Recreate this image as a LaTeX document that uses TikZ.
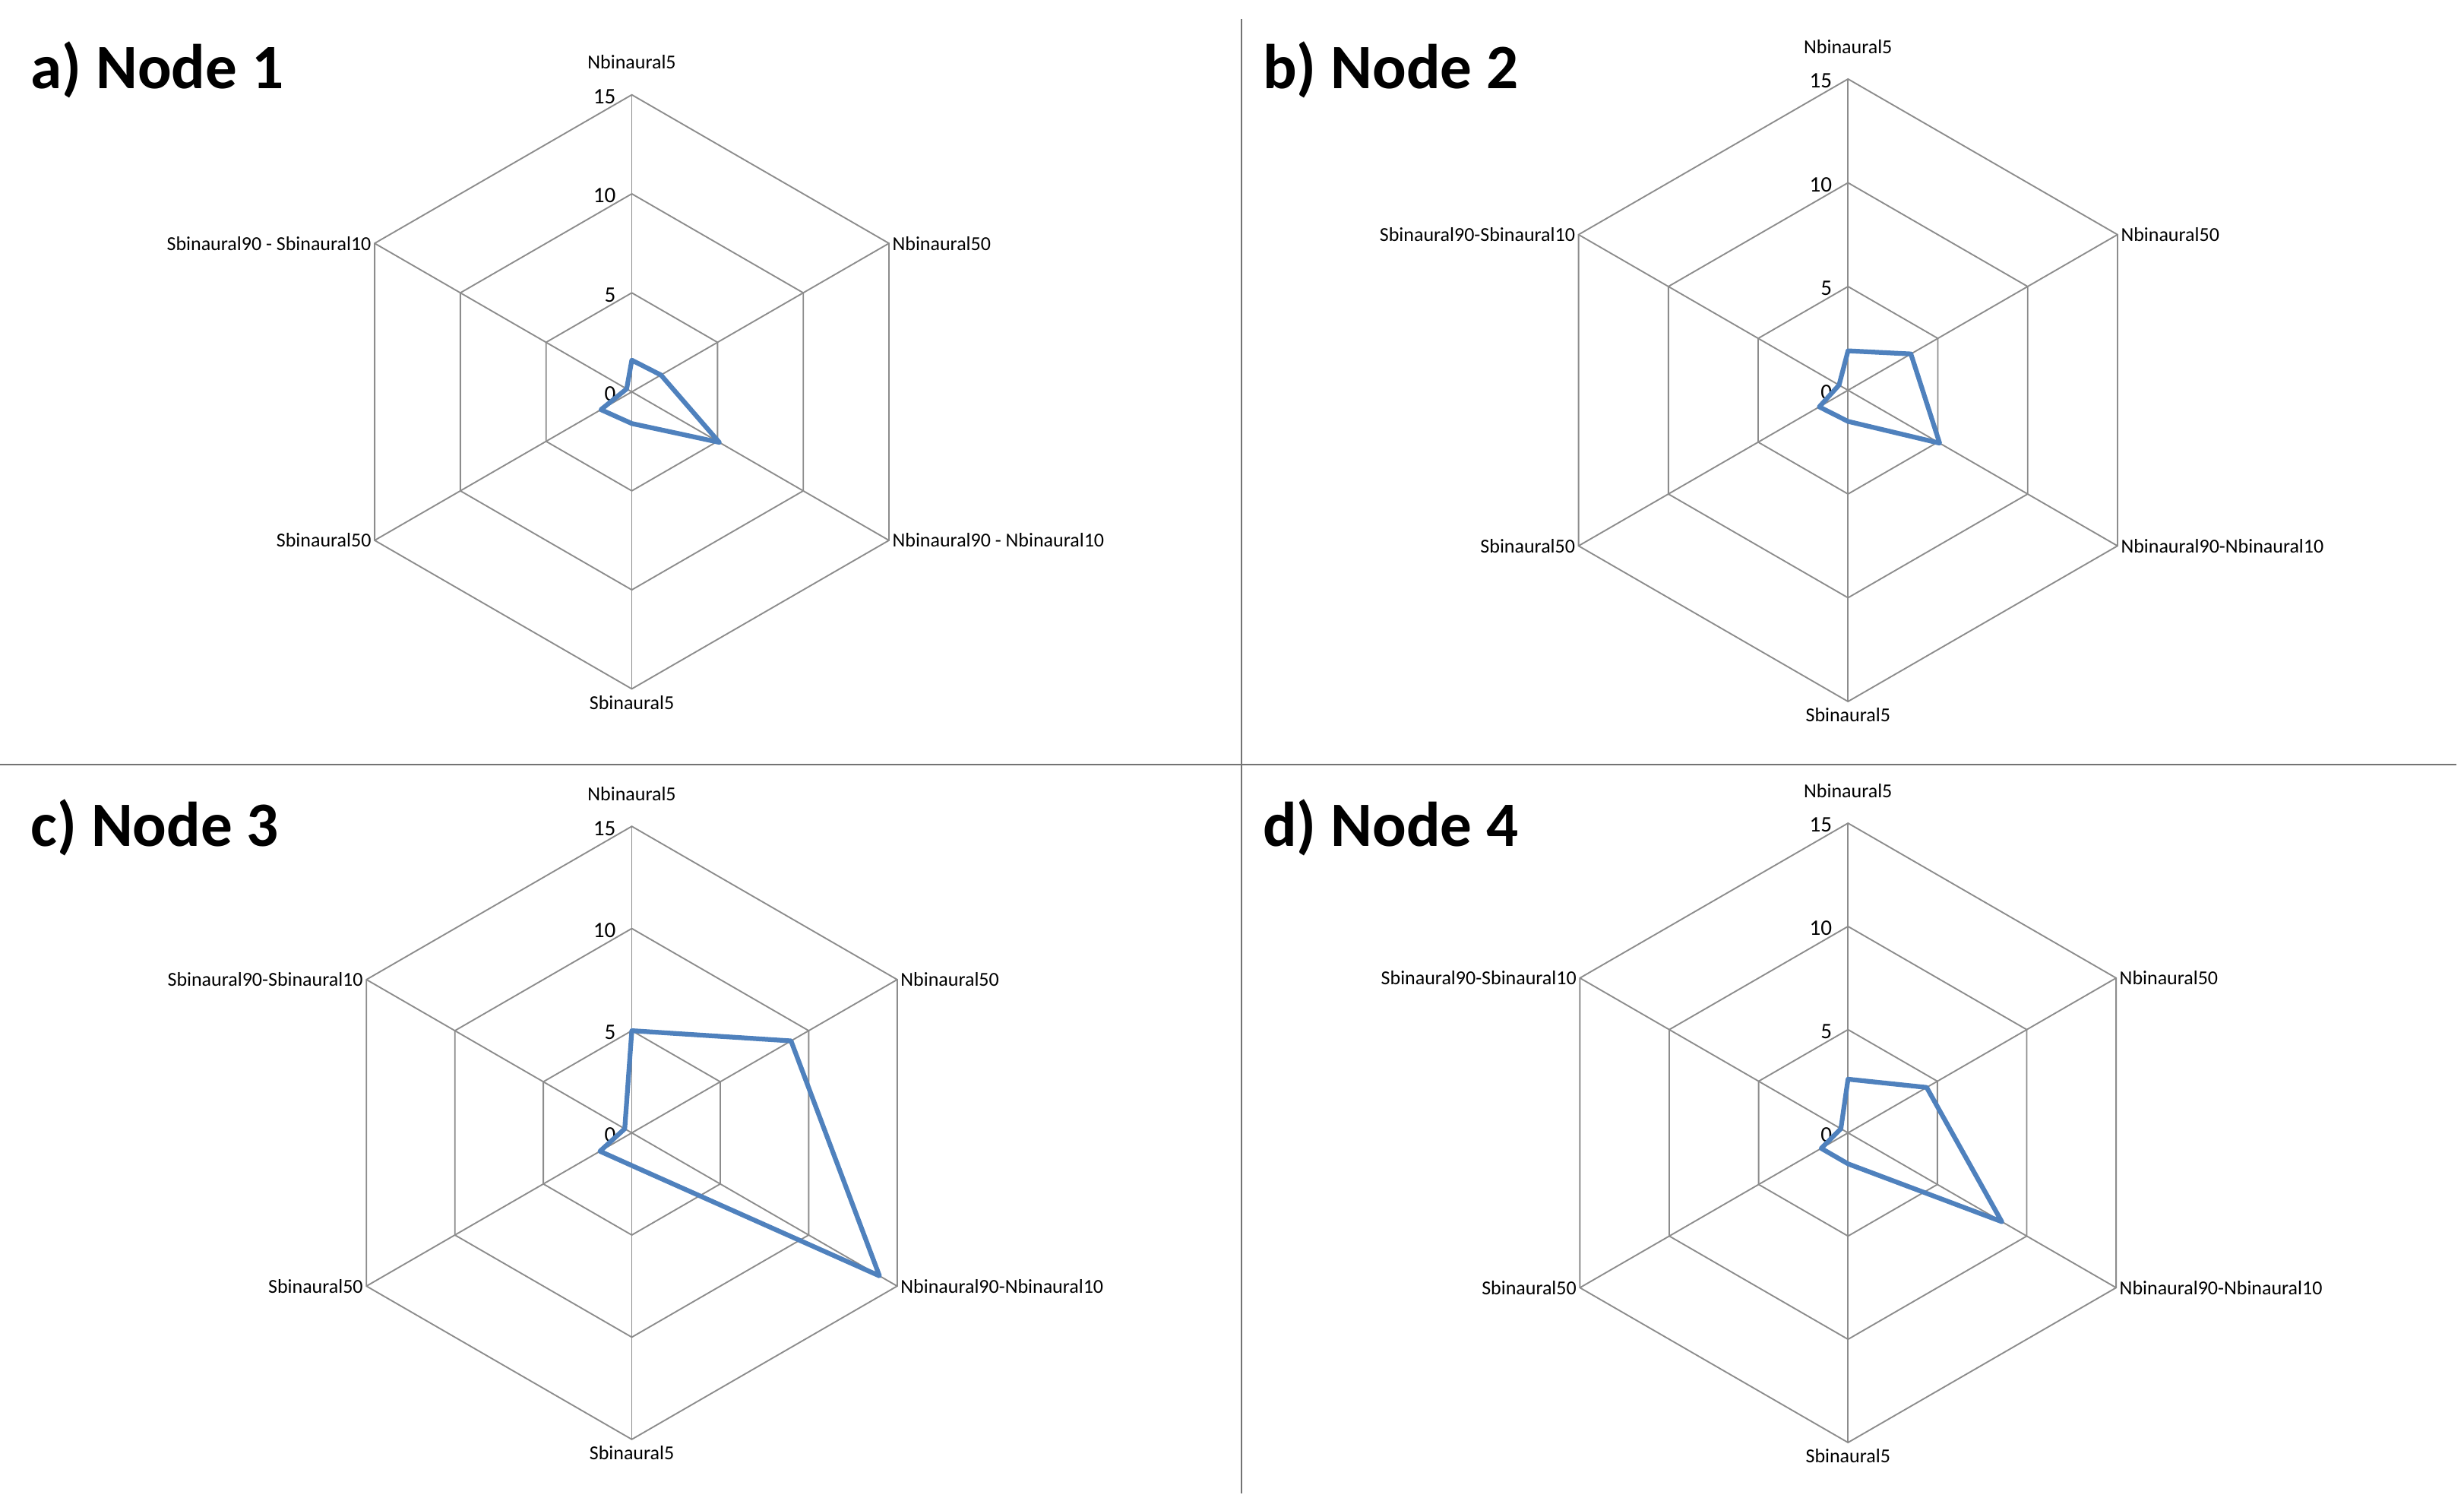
\documentclass[tikz,border=0pt]{standalone}
\usepackage{fontspec}
\setmainfont{Carlito}
\definecolor{xlblue}{HTML}{4F81BD}
\begin{document}
\begin{tikzpicture}[x=1pt,y=-1pt,
 grid/.style={draw=black!45,line width=0.9pt},
 data/.style={draw=xlblue,line width=3pt,line join=round},
 ax/.style={font=\fontsize{12.5}{13}\selectfont,inner sep=2pt},
 tick/.style={font=\fontsize{14}{14}\selectfont,inner sep=2pt,anchor=south east},
 ttl/.style={font=\bfseries\fontsize{40}{42}\selectfont,anchor=west},
 sep/.style={draw=black!55,line width=0.9pt}]
\useasboundingbox (0,0) rectangle (1560,948);
\newcommand\radar[9]{%
 \begin{scope}[shift={(#1,#2)},y=1pt]
 \foreach \k in {1,2,3}{\draw[grid] (90:{\k*#3/3}) -- (30:{\k*#3/3}) -- (-30:{\k*#3/3}) -- (-90:{\k*#3/3}) -- (210:{\k*#3/3}) -- (150:{\k*#3/3}) -- cycle;}
 \foreach \a in {90,30,-30,-90,210,150}{\draw[grid] (0,0) -- (\a:#3);}
 \node[ax,anchor=south] (\pn-l1) at (90:{#3+14}) {\lA};
 \node[ax,anchor=west] (\pn-l2) at (30:#3) {\lB};
 \node[ax,anchor=west] (\pn-l3) at (-30:#3) {\lC};
 \node[ax,anchor=north] (\pn-l4) at (-90:{#3+2}) {\lD};
 \node[ax,anchor=east] (\pn-l5) at (210:#3) {\lE};
 \node[ax,anchor=east] (\pn-l6) at (150:#3) {\lF};
 \foreach \k/\t in {0/0,1/5,2/10,3/15}{\node[tick] (\pn-t\k) at (-8,{\k*#3/3-8}) {\t};}
 \draw[data] (90:{#4*#3/15}) -- (30:{#5*#3/15}) -- (-30:{#6*#3/15}) -- (-90:{#7*#3/15}) -- (210:{#8*#3/15}) -- (150:{#9*#3/15}) -- cycle;
 \end{scope}}
\draw[sep] (0,484) -- (1555,484);
\draw[sep] (786,12) -- (786,945);
\node[ttl] (ta) at (16,44) {a) Node 1};
\node[ttl] (tb) at (796,44) {b) Node 2};
\node[ttl] (tc) at (16,524) {c) Node 3};
\node[ttl] (td) at (796,524) {d) Node 4};
\def\lA{Nbinaural5}\def\lB{Nbinaural50}\def\lC{Nbinaural90 - Nbinaural10}
\def\lD{Sbinaural5}\def\lE{Sbinaural50}\def\lF{Sbinaural90 - Sbinaural10}
\def\pn{a}\radar{400}{248}{188}{1.6}{1.7}{5.1}{1.6}{1.8}{0.3}
\def\lC{Nbinaural90-Nbinaural10}\def\lF{Sbinaural90-Sbinaural10}
\def\pn{b}\radar{1170}{247}{197}{1.9}{3.5}{5.1}{1.5}{1.6}{0.5}
\def\pn{c}\radar{400}{717}{194}{5}{9}{14}{1.6}{1.8}{0.4}
\def\pn{d}\radar{1170}{717}{196}{2.6}{4.4}{8.6}{1.5}{1.5}{0.4}
\end{tikzpicture}
\end{document}
